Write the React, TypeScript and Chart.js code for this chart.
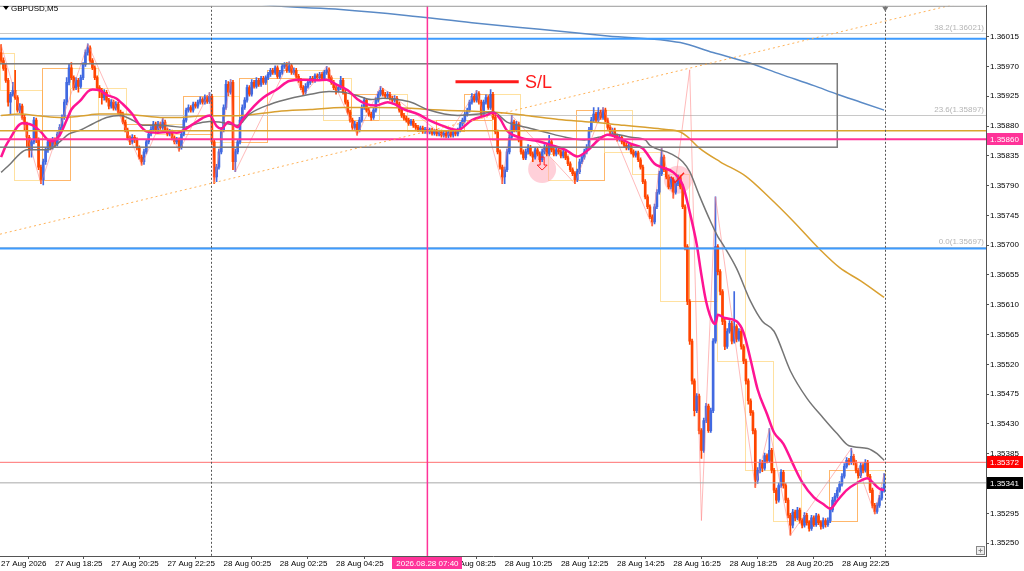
import React, { useEffect, useRef } from 'react';
import { Chart, registerables } from 'chart.js';

Chart.register(...registerables);

// ---------- DATA ----------
const PRICE_BASE = 1.35;
const POINT = 0.00001;

// GBPUSD M5 candles, [open, high, low, close] in points above 1.35000
// 27 Aug 16:30 - 23:55
const candles27 = [
  [991,1003,976,979],[979,983,964,967],[967,973,946,949],[949,952,910,916],[916,931,898,928],
  [928,946,925,934],[934,964,920,923],[923,926,901,904],[904,914,900,910],[910,913,890,893],
  [893,896,874,883],[883,886,848,863],[863,866,833,844],[844,860,833,856],[856,893,853,889],
  [889,892,855,859],[859,862,814,818],[818,821,793,799],[799,830,791,826],[826,848,822,844],
  [844,860,840,856],[856,860,844,848],[848,863,845,859],[859,862,849,853],[853,871,850,868],
  [868,882,865,878],[878,897,875,893],[893,920,890,916],[916,953,912,946],[946,973,942,968],
  [968,976,950,953],[953,956,934,938],[938,953,935,949],[949,952,931,940],[940,957,937,953],
  [953,976,950,973],[973,995,970,991],[991,1004,987,998],[998,1001,976,979],[979,982,965,968],
  [968,971,950,953],[953,956,935,938],[938,941,923,934],[934,937,913,923],[923,935,919,931],
  [931,934,916,919],[919,922,906,910],[910,920,907,916],[916,919,904,907],[907,917,904,913],
  [913,916,898,901],[901,904,895,898],[898,901,883,886],[886,889,871,874],[874,877,859,862],
  [862,865,852,856],[856,867,853,863],[863,866,855,859],[859,862,844,847],[847,850,830,833],
  [833,836,821,826],[826,845,822,841],[841,860,838,856],[856,872,853,868],[868,879,865,875],
  [875,887,872,883],[883,886,871,874],[874,887,871,883],[883,886,875,878],[878,892,875,886],
  [886,889,871,874],[874,877,865,868],[868,875,865,871],[871,874,859,862],[862,865,853,856],
  [856,863,853,859],[859,862,842,848],[848,871,845,868],[868,892,865,889],[889,907,886,904],
  [904,912,901,908],[908,911,901,904],[904,916,901,913],[913,916,907,910],[910,919,907,916],
  [916,924,913,920],[920,923,913,916],[916,927,913,923],[923,926,914,917],[917,931,914,925],
];
// 28 Aug 00:00 - 11:55
const candles28am = [
  [925,928,852,856],[856,859,793,803],[803,822,796,818],[818,845,815,841],[841,878,838,874],
  [874,912,871,908],[908,949,905,943],[943,947,926,931],[931,950,928,946],[946,949,814,826],
  [826,845,811,841],[841,860,838,856],[856,893,853,889],[889,912,886,908],[908,923,905,919],
  [919,942,916,938],[938,941,925,928],[928,950,925,946],[946,949,937,940],[940,953,937,949],
  [949,952,940,943],[943,955,940,952],[952,955,943,946],[946,956,943,953],[953,961,950,958],
  [958,967,955,964],[964,967,958,961],[961,971,958,968],[968,971,952,955],[955,964,952,961],
  [961,973,958,970],[970,976,967,973],[973,976,961,964],[964,977,961,971],[971,974,958,961],
  [961,968,958,964],[964,967,952,955],[955,958,946,949],[949,952,935,938],[938,941,926,931],
  [931,944,928,940],[940,949,937,946],[946,955,943,952],[952,955,946,949],[949,959,946,956],
  [956,959,950,953],[953,961,950,958],[958,961,949,952],[952,964,949,961],[961,970,958,965],
  [965,968,950,953],[953,956,943,946],[946,949,935,938],[938,941,928,934],[934,942,931,938],
  [938,955,935,949],[949,952,928,931],[931,934,913,916],[916,919,898,901],[901,904,886,889],
  [889,892,875,878],[878,887,875,883],[883,886,866,874],[874,893,871,889],[889,912,886,908],
  [908,923,905,919],[919,922,901,904],[904,907,895,898],[898,901,889,893],[893,908,890,904],
  [904,923,901,919],[919,932,916,928],[928,940,925,934],[934,937,925,928],[928,931,922,925],
  [925,932,922,928],[928,931,919,922],[922,925,916,919],[919,926,916,922],[922,925,910,913],
  [913,916,901,904],[904,907,893,896],[896,899,889,892],[892,895,886,889],[889,892,881,884],
  [884,890,881,887],[887,890,878,881],[881,884,875,878],[878,881,872,875],[875,880,872,877],
  [877,880,869,872],[872,878,869,875],[875,878,868,871],[871,877,868,874],[874,877,866,869],
  [869,875,866,872],[872,875,865,868],[868,874,865,871],[871,874,863,866],[866,872,863,869],
  [869,872,862,865],[865,874,862,871],[871,874,863,866],[866,874,863,871],[871,874,865,868],
  [868,877,865,874],[874,886,871,883],[883,892,880,889],[889,901,886,898],[898,907,895,904],
  [904,919,901,916],[916,929,913,925],[925,928,916,919],[919,934,916,929],[929,932,913,916],
  [916,919,895,898],[898,919,895,916],[916,927,913,923],[923,926,905,908],[908,935,905,928],
  [928,931,890,893],[893,896,868,871],[871,874,838,841],[841,844,815,818],[818,821,793,803],
  [803,818,793,814],[814,845,811,841],[841,867,838,863],[863,896,860,886],[886,889,871,874],
  [874,887,871,883],[883,886,856,859],[859,862,838,841],[841,844,829,832],[832,845,829,841],
  [841,852,838,848],[848,851,835,838],[838,841,826,833],[833,848,830,844],[844,847,835,838],
  [838,841,826,829],[829,845,826,841],[841,852,838,848],[848,851,835,838],
];
// 28 Aug 12:00 - 23:55
const candles28pm = [
  [838,866,835,856],[856,859,841,844],[844,847,835,838],[838,848,835,844],[844,847,838,841],
  [841,844,832,835],[835,845,832,841],[841,844,829,832],[832,835,820,823],[823,826,811,814],
  [814,817,805,808],[808,811,793,799],[799,815,796,811],[811,830,808,826],[826,837,823,833],
  [833,845,830,841],[841,852,838,848],[848,878,845,874],[874,893,871,889],[889,908,886,898],
  [898,901,886,889],[889,908,886,901],[901,904,890,893],[893,908,890,904],[904,907,886,889],
  [889,892,875,878],[878,881,868,871],[871,877,868,874],[874,877,862,865],[865,868,857,860],
  [860,866,857,863],[863,866,853,856],[856,859,848,851],[851,854,844,847],[847,853,844,850],
  [850,853,838,841],[841,844,833,836],[836,842,833,839],[839,842,826,829],[829,832,815,818],
  [818,821,793,796],[796,799,770,773],[773,776,755,758],[758,761,740,743],[743,746,729,735],
  [735,762,732,758],[758,784,755,780],[780,812,777,808],[808,848,805,833],[833,836,811,814],
  [814,817,800,803],[803,806,785,788],[788,803,785,799],[799,802,771,780],[780,797,777,793],
  [793,806,790,802],[802,805,785,788],[788,791,755,758],[758,761,693,698],[698,701,610,615],
  [615,618,550,555],[555,558,490,495],[495,498,442,450],[450,476,447,472],[472,475,415,420],
  [420,423,378,390],[390,439,387,435],[435,461,432,457],[457,460,417,420],[420,454,417,450],
  [450,559,447,555],[555,773,552,698],[698,701,655,660],[660,663,625,630],[630,633,580,585],
  [585,588,542,547],[547,574,544,570],[570,586,567,582],[582,585,551,555],[555,630,552,577],
  [577,580,554,558],[558,574,555,570],[570,573,543,547],[547,550,521,525],[525,528,490,495],
  [495,498,460,465],[465,468,443,447],[447,450,415,420],[420,423,334,345],[345,364,340,360],
  [360,376,356,372],[372,375,358,363],[363,386,360,382],[382,385,371,375],[375,423,372,390],
  [390,393,356,360],[360,363,326,330],[330,333,310,315],[315,341,312,337],[337,361,334,357],
  [357,360,333,337],[337,340,311,315],[315,318,288,292],[292,295,262,277],[277,301,273,297],
  [297,300,284,288],[288,304,285,300],[300,303,280,284],[284,287,273,277],[277,296,274,292],
  [292,295,277,281],[281,284,268,272],[272,292,269,288],[288,291,275,278],[278,295,275,291],
  [291,294,278,281],[281,284,271,275],[275,288,272,284],[284,287,274,278],[278,288,275,284],
  [284,304,281,300],[300,319,297,315],[315,325,312,321],[321,334,318,330],[330,343,327,339],
  [339,355,336,351],[351,370,348,366],[366,379,363,375],[375,378,368,372],[372,393,369,381],
  [381,384,368,372],[372,375,356,360],[360,363,348,352],[352,371,349,367],[367,370,356,360],
  [360,376,357,372],[372,375,347,351],[351,354,326,330],[330,333,303,307],[307,310,294,298],
  [298,311,295,307],[307,322,304,318],[318,334,315,330],[330,355,327,341],
];

// Moving averages: [bar index, points above 1.35000]
const maMagenta = [
  [0,833],[2,850],[4,862],[7,879],[9,884],[12,883],[14,880],[17,871],[20,859],[22,857],[25,866],[28,889],
  [30,905],[34,919],[37,932],[39,935],[42,934],[45,927],[49,922],[52,913],[56,898],[59,882],[62,872],[67,870],
  [71,871],[75,870],[78,874],[82,883],[86,892],[89,896],[92,880],[94,876],[97,886],[99,883],[101,878],[103,889],
  [108,910],[112,923],[118,936],[123,948],[129,950],[135,949],[139,950],[143,943],[148,934],[152,921],[156,913],
  [160,911],[165,916],[168,913],[172,905],[178,898],[182,890],[188,881],[195,874],[201,889],[207,896],[210,900],
  [213,891],[216,873],[222,862],[228,858],[235,851],[241,844],[246,834],[251,845],[255,859],[259,867],[263,863],
  [269,853],[274,846],[279,823],[282,818],[287,810],[291,791],[294,750],[297,701],[299,655],[301,615],[304,583],
  [305,581],[306,595],[309,590],[314,585],[317,568],[320,527],[323,482],[327,445],[330,417],[334,400],[338,370],
  [342,342],[347,319],[351,309],[354,302],[357,314],[361,330],[365,340],[370,348],[372,342],[375,332],[377,330],
];
const maGray = [
  [0,810],[4,823],[8,838],[11,844],[17,844],[21,845],[25,856],[29,868],[34,874],[39,883],[45,893],[51,896],
  [56,889],[61,881],[67,881],[72,880],[78,878],[84,884],[89,887],[93,886],[101,881],[106,898],[115,913],[125,923],
  [132,928],[140,932],[146,931],[152,926],[158,920],[163,922],[169,920],[175,916],[182,905],[195,896],[204,898],
  [210,901],[216,886],[224,878],[232,871],[241,863],[249,859],[255,863],[261,868],[269,863],[275,859],[277,851],
  [286,838],[291,826],[294,811],[298,776],[303,735],[306,713],[308,702],[314,665],[320,615],[325,585],[330,570],
  [337,510],[344,469],[351,439],[357,415],[362,397],[370,393],[374,385],[377,375],
];
const maGold = [
  [0,896],[8,898],[17,895],[25,893],[34,895],[42,898],[51,898],[59,896],[68,893],[76,893],[85,895],[103,896],
  [118,902],[132,905],[146,908],[160,908],[175,907],[182,905],[210,901],[224,896],[238,890],[252,886],[266,881],
  [275,878],[283,875],[290,871],[293,864],[298,847],[307,826],[318,804],[328,772],[338,737],[350,692],[358,666],
  [367,646],[377,621],
];
const maBlue = [
  [102,1071],[113,1063],[145,1056],[173,1047],[201,1036],[230,1026],[259,1016],[290,1006],[304,991],[318,977],
  [333,958],[347,941],[357,928],[367,916],[377,904],
];
const zigzag = [
  [0,1003],[17,793],[37,1004],[60,821],[69,892],[76,842],[89,931],[91,793],[98,950],[100,811],[123,977],
  [129,926],[139,970],[152,866],[162,940],[190,862],[203,934],[214,793],[218,896],[245,793],[257,908],
  [278,729],[282,848],[287,771],[294,965],[299,284],[305,773],[322,334],[328,423],[337,262],[363,393],
  [373,294],[377,355],
];

const TIME_TICK_INDEX = [0, 23, 47, 71, 95, 119, 143, 167, 191, 215, 239, 263, 287, 311, 335, 359];
const TIME_TICK_LABELS = [
  '27 Aug 2026', '27 Aug 18:25', '27 Aug 20:25', '27 Aug 22:25', '28 Aug 00:25', '28 Aug 02:25',
  '28 Aug 04:25', '28 Aug 06:25', '28 Aug 08:25', '28 Aug 10:25', '28 Aug 12:25', '28 Aug 14:25',
  '28 Aug 16:25', '28 Aug 18:25', '28 Aug 20:25', '28 Aug 22:25',
];
const PRICE_TICKS = [
  1.3525, 1.35295, 1.3534, 1.35385, 1.3543, 1.35475, 1.3552, 1.35565, 1.3561, 1.35655,
  1.357, 1.35745, 1.3579, 1.35835, 1.3588, 1.35925, 1.3597, 1.36015,
];

const FIB_LEVELS = [
  { label: '38.2(1.36021)', price: 1.36021 },
  { label: '23.6(1.35897)', price: 1.35897 },
  { label: '0.0(1.35697)', price: 1.35697 },
];
const BLUE_LEVELS = [1.36012, 1.35695];
const GOLD_LEVEL = 1.35873;
const SL_LEVEL = 1.3586;
const RED_LEVEL = 1.35372;
const BID_LEVEL = 1.35341;
const RANGE_BOX = { fromIndex: -5, toIndex: 357, top: 1.35974, bottom: 1.35848 };
const TREND_ANCHORS = [[0, 1.35717], [405, 1.36062]];
const DAY_SEPARATORS = [90, 378];
const CURSOR_INDEX = 182;
const CURSOR_LABEL = '2026.08.28 07:40';
const SL_MARK = { fromIndex: 194, toIndex: 221, price: 1.35947, textIndex: 223.7, text: 'S/L' };
const SIGNALS = [
  { index: 231, price: 1.35815, kind: 'down' },
  { index: 289, price: 1.35799, kind: 'check' },
];
const FIRST_FULL_HOUR_INDEX = 6;
const SYMBOL_LABEL = 'GBPUSD,M5';

// ---------- DERIVED TABLES ----------
const toPrice = (pts: number) => +(PRICE_BASE + pts * POINT).toFixed(5);
const allCandles = [...candles27, ...candles28am, ...candles28pm];
const N = allCandles.length;
const UP = '#4169E1';
const DOWN = '#FF4500';
const candleColors = allCandles.map((c) => (c[3] >= c[0] ? UP : DOWN));
const wickData = allCandles.map((c, i) => ({ x: i, y: [toPrice(c[2]), toPrice(c[1])] }));
const bodyData = allCandles.map((c, i) => ({ x: i, y: [toPrice(c[0]), toPrice(c[3])] }));
const toXY = (arr: number[][]) => arr.map(([i, p]) => ({ x: i, y: toPrice(p) }));

const hourBoxes: { from: number; to: number; open: number; close: number }[] = [];
{
  let s = 0;
  while (s < N) {
    const next = s === 0 ? FIRST_FULL_HOUR_INDEX : s + 12;
    const to = Math.min(next, N) - 1;
    hourBoxes.push({ from: s, to, open: toPrice(allCandles[s][0]), close: toPrice(allCandles[to][3]) });
    s = next;
  }
}

const X_MIN = -0.47;
const X_MAX = 420.5;
const Y_MIN = 1.352305;
const Y_MAX = 1.360616;
const FONT = 'Liberation Sans';

const overlayPlugin: any = {
  id: 'mtOverlay',
  beforeDatasetsDraw(chart: any) {
    const { ctx, chartArea: a, scales } = chart;
    const x = scales.x, y = scales.y;
    ctx.save();
    ctx.beginPath();
    ctx.rect(a.left, a.top, a.right - a.left, a.bottom - a.top);
    ctx.clip();
    // hourly boxes
    ctx.lineWidth = 1;
    for (const b of hourBoxes) {
      const x0 = Math.round(x.getPixelForValue(b.from - 0.5)) + 0.5;
      const x1 = Math.round(x.getPixelForValue(b.to + 0.5)) + 0.5;
      const y0 = Math.round(y.getPixelForValue(Math.max(b.open, b.close))) + 0.5;
      const y1 = Math.round(y.getPixelForValue(Math.min(b.open, b.close))) + 0.5;
      ctx.strokeStyle = b.close >= b.open ? 'rgba(255,165,70,0.8)' : 'rgba(255,222,150,0.9)';
      ctx.strokeRect(x0, y0, x1 - x0, Math.max(y1 - y0, 1));
    }
    // fib levels (thin grey)
    ctx.strokeStyle = '#c8c8c8';
    for (const f of FIB_LEVELS) {
      const py = Math.round(y.getPixelForValue(f.price)) + 0.5;
      ctx.beginPath(); ctx.moveTo(a.left, py); ctx.lineTo(a.right, py); ctx.stroke();
    }
    // signal circles (background)
    for (const s of SIGNALS) {
      const cx = x.getPixelForValue(s.index), cy = y.getPixelForValue(s.price);
      ctx.fillStyle = 'rgba(255,150,170,0.45)';
      ctx.beginPath(); ctx.arc(cx, cy, 14, 0, Math.PI * 2); ctx.fill();
    }
    ctx.restore();
  },
  afterDatasetsDraw(chart: any) {
    const { ctx, chartArea: a, scales } = chart;
    const x = scales.x, y = scales.y;
    ctx.save();
    ctx.beginPath();
    ctx.rect(a.left, a.top, a.right - a.left, a.bottom - a.top);
    ctx.clip();
    const hline = (price: number, color: string, w: number) => {
      const py = y.getPixelForValue(price);
      ctx.strokeStyle = color; ctx.lineWidth = w;
      ctx.beginPath(); ctx.moveTo(a.left, py); ctx.lineTo(a.right, py); ctx.stroke();
    };
    // range rectangle
    {
      const x0 = x.getPixelForValue(RANGE_BOX.fromIndex), x1 = x.getPixelForValue(RANGE_BOX.toIndex);
      const y0 = y.getPixelForValue(RANGE_BOX.top), y1 = y.getPixelForValue(RANGE_BOX.bottom);
      ctx.strokeStyle = '#7a7a7a'; ctx.lineWidth = 1.5;
      ctx.strokeRect(x0, y0, x1 - x0, y1 - y0);
    }
    for (const b of BLUE_LEVELS) hline(b, '#3d9bff', 2);
    hline(GOLD_LEVEL, '#d9a530', 1.5);
    hline(SL_LEVEL, '#ff3399', 2);
    hline(RED_LEVEL, '#ff7070', 1);
    hline(BID_LEVEL, '#a8a8a8', 1);
    // dotted trendline (ray)
    {
      const [p0, p1] = TREND_ANCHORS;
      const ax = x.getPixelForValue(p0[0]), ay = y.getPixelForValue(p0[1]);
      const bx = x.getPixelForValue(p1[0]), by = y.getPixelForValue(p1[1]);
      const k = (by - ay) / (bx - ax);
      ctx.strokeStyle = 'rgba(255,170,70,0.9)'; ctx.lineWidth = 1; ctx.setLineDash([2, 3]);
      ctx.beginPath(); ctx.moveTo(a.left, ay + k * (a.left - ax)); ctx.lineTo(a.right, ay + k * (a.right - ax)); ctx.stroke();
      ctx.setLineDash([]);
    }
    // day separators
    ctx.strokeStyle = '#555'; ctx.lineWidth = 1; ctx.setLineDash([2, 2]);
    for (const d of DAY_SEPARATORS) {
      const px = Math.round(x.getPixelForValue(d - 0.5)) + 0.5;
      ctx.beginPath(); ctx.moveTo(px, a.top); ctx.lineTo(px, a.bottom); ctx.stroke();
    }
    ctx.setLineDash([]);
    // cursor line
    {
      const px = x.getPixelForValue(CURSOR_INDEX);
      ctx.strokeStyle = '#ff3399'; ctx.lineWidth = 1.5;
      ctx.beginPath(); ctx.moveTo(px, a.top); ctx.lineTo(px, a.bottom); ctx.stroke();
    }
    // signal marks
    for (const s of SIGNALS) {
      const cx = x.getPixelForValue(s.index), cy = y.getPixelForValue(s.price);
      ctx.strokeStyle = '#ff2020'; ctx.lineWidth = 1;
      if (s.kind === 'down') {
        ctx.beginPath();
        ctx.moveTo(cx - 2, cy - 12); ctx.lineTo(cx + 2, cy - 12); ctx.lineTo(cx + 2, cy - 4);
        ctx.lineTo(cx + 5, cy - 4); ctx.lineTo(cx, cy + 1); ctx.lineTo(cx - 5, cy - 4);
        ctx.lineTo(cx - 2, cy - 4); ctx.closePath(); ctx.stroke();
      } else {
        ctx.lineWidth = 1.5;
        ctx.beginPath(); ctx.moveTo(cx - 7, cy - 3); ctx.lineTo(cx - 3, cy + 3); ctx.lineTo(cx + 6, cy - 7); ctx.stroke();
      }
    }
    // S/L mark
    {
      const x0 = x.getPixelForValue(SL_MARK.fromIndex), x1 = x.getPixelForValue(SL_MARK.toIndex);
      const py = y.getPixelForValue(SL_MARK.price);
      ctx.strokeStyle = '#ff1a1a'; ctx.lineWidth = 3;
      ctx.beginPath(); ctx.moveTo(x0, py); ctx.lineTo(x1, py); ctx.stroke();
      ctx.fillStyle = '#ff1a1a'; ctx.font = `18px "${FONT}"`; ctx.textAlign = 'left'; ctx.textBaseline = 'middle';
      ctx.fillText(SL_MARK.text, x.getPixelForValue(SL_MARK.textIndex), py + 1);
    }
    // fib labels
    ctx.fillStyle = '#b4b4b4'; ctx.font = `8px "${FONT}"`; ctx.textAlign = 'right'; ctx.textBaseline = 'bottom';
    for (const f of FIB_LEVELS) ctx.fillText(f.label, a.right - 2, y.getPixelForValue(f.price) - 1);
    ctx.restore();
  },
  afterDraw(chart: any) {
    const { ctx, chartArea: a, scales } = chart;
    const x = scales.x, y = scales.y;
    ctx.save();
    // top frame line
    ctx.strokeStyle = '#9a9a9a'; ctx.lineWidth = 1;
    ctx.beginPath(); ctx.moveTo(a.left, a.top + 0.5); ctx.lineTo(a.right, a.top + 0.5); ctx.stroke();
    // symbol label
    ctx.fillStyle = '#000';
    ctx.beginPath(); ctx.moveTo(3, 6); ctx.lineTo(9, 6); ctx.lineTo(6, 10); ctx.closePath(); ctx.fill();
    ctx.font = `8px "${FONT}"`; ctx.textAlign = 'left'; ctx.textBaseline = 'middle';
    ctx.fillText(SYMBOL_LABEL, 11, 8.5);
    // shift marker
    {
      const px = x.getPixelForValue(DAY_SEPARATORS[1] - 0.5);
      ctx.fillStyle = '#777';
      ctx.beginPath(); ctx.moveTo(px - 3, a.top + 1); ctx.lineTo(px + 3, a.top + 1); ctx.lineTo(px, a.top + 6); ctx.closePath(); ctx.fill();
    }
    // price boxes on axis
    const boxes = [
      { price: SL_LEVEL, bg: '#ff3399' },
      { price: RED_LEVEL, bg: '#ff0000' },
      { price: BID_LEVEL, bg: '#000000' },
    ];
    ctx.font = `8px "${FONT}"`; ctx.textBaseline = 'middle'; ctx.textAlign = 'left';
    for (const b of boxes) {
      const py = y.getPixelForValue(b.price);
      ctx.fillStyle = b.bg;
      ctx.fillRect(a.right + 1, Math.round(py) - 6, 36, 12);
      ctx.fillStyle = '#fff';
      ctx.fillText(b.price.toFixed(5), a.right + 4, Math.round(py) + 0.5);
    }
    // cursor time box
    {
      const px = x.getPixelForValue(CURSOR_INDEX);
      const w = ctx.measureText(CURSOR_LABEL).width + 8;
      ctx.fillStyle = '#ff3399';
      ctx.fillRect(Math.round(px - w / 2), a.bottom + 1, Math.round(w), 12);
      ctx.fillStyle = '#fff'; ctx.textAlign = 'center';
      ctx.fillText(CURSOR_LABEL, px, a.bottom + 7.5);
    }
    // corner button
    ctx.strokeStyle = '#888'; ctx.fillStyle = '#eee';
    ctx.fillRect(a.right - 9, a.bottom - 9, 8, 8);
    ctx.strokeRect(a.right - 9.5, a.bottom - 9.5, 8, 8);
    ctx.beginPath(); ctx.moveTo(a.right - 7.5, a.bottom - 5.5); ctx.lineTo(a.right - 3.5, a.bottom - 5.5);
    ctx.moveTo(a.right - 5.5, a.bottom - 7.5); ctx.lineTo(a.right - 5.5, a.bottom - 3.5); ctx.stroke();
    ctx.restore();
  },
};

export default function App() {
  const ref = useRef<HTMLCanvasElement | null>(null);
  useEffect(() => {
    document.body.style.margin = '0';
    const canvas = ref.current;
    if (!canvas) return;
    const lineDs = (label: string, data: number[][], color: string, width: number, order: number, tension = 0.4) => ({
      type: 'line' as const,
      label,
      data: toXY(data),
      borderColor: color,
      borderWidth: width,
      pointRadius: 0,
      tension,
      cubicInterpolationMode: tension > 0 ? ('monotone' as const) : ('default' as const),
      fill: false,
      order,
    });
    const chart = new Chart(canvas, {
      type: 'bar',
      data: {
        datasets: [
          {
            type: 'bar',
            label: 'wicks',
            data: wickData as any,
            backgroundColor: candleColors,
            barThickness: 1,
            grouped: false,
            borderWidth: 0,
            order: 10,
          },
          {
            type: 'bar',
            label: 'bodies',
            data: bodyData as any,
            backgroundColor: candleColors,
            barThickness: 2,
            minBarLength: 1,
            grouped: false,
            borderWidth: 0,
            order: 9,
          },
          lineDs('zigzag', zigzag, 'rgba(255,130,130,0.55)', 1, 5, 0) as any,
          lineDs('blue', maBlue, '#5a8ac6', 1.5, 3) as any,
          lineDs('gold', maGold, '#d9a030', 1.5, 3) as any,
          lineDs('gray', maGray, '#757575', 1.5, 2) as any,
          lineDs('magenta', maMagenta, '#ff1493', 2.5, 1) as any,
        ],
      },
      options: {
        responsive: false,
        maintainAspectRatio: false,
        animation: false,
        devicePixelRatio: 1,
        events: [],
        layout: { padding: { top: 3, left: 0, right: 0, bottom: 0 }, autoPadding: false } as any,
        plugins: { legend: { display: false }, tooltip: { enabled: false }, title: { display: false } },
        scales: {
          x: {
            type: 'linear',
            min: X_MIN,
            max: X_MAX,
            offset: false,
            afterBuildTicks: (s: any) => { s.ticks = TIME_TICK_INDEX.map((v) => ({ value: v })); },
            afterFit: (s: any) => { s.height = 15; },
            grid: { drawOnChartArea: false, drawTicks: true, tickLength: 3, color: '#555' },
            border: { display: true, color: '#555' },
            ticks: {
              autoSkip: false, maxRotation: 0, minRotation: 0, align: 'start', padding: 0,
              font: { family: FONT, size: 8 }, color: '#000',
              callback: (_v: any, i: number) => TIME_TICK_LABELS[i] ?? '',
            },
          },
          y: {
            type: 'linear',
            position: 'right',
            min: Y_MIN,
            max: Y_MAX,
            afterBuildTicks: (s: any) => { s.ticks = PRICE_TICKS.map((v) => ({ value: v })); },
            afterFit: (s: any) => { s.width = 38; },
            grid: { drawOnChartArea: false, drawTicks: true, tickLength: 3, color: '#555' },
            border: { display: true, color: '#555' },
            ticks: {
              padding: 1, font: { family: FONT, size: 8 }, color: '#000',
              callback: (v: any) => Number(v).toFixed(5),
            },
          },
        },
      } as any,
      plugins: [overlayPlugin],
    });
    return () => chart.destroy();
  }, []);
  return (
    <div style={{ position: 'fixed', left: 0, top: 0, width: 1024, height: 571, background: '#fff' }}>
      <canvas ref={ref} width={1024} height={571} style={{ display: 'block', width: 1024, height: 571 }} />
    </div>
  );
}
